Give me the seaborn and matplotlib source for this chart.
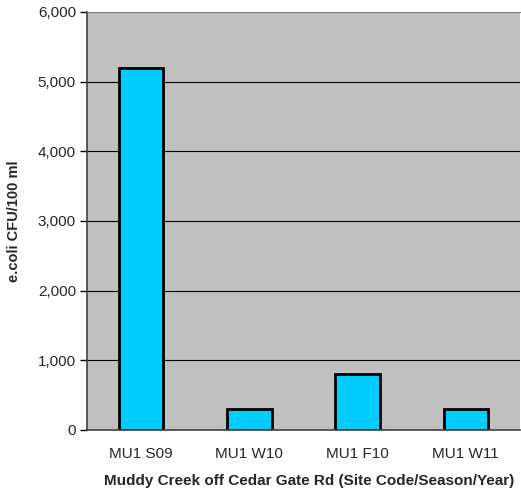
import numpy as np
import pandas as pd
import matplotlib
matplotlib.use("Agg")
import matplotlib.pyplot as plt
import seaborn as sns
from matplotlib.ticker import FuncFormatter

samples = ["MU1 S09", "MU1 W10", "MU1 F10", "MU1 W11"]
ecoli = [5200, 300, 800, 300]

df = pd.DataFrame({"Sample": samples, "Ecoli": ecoli})

sns.set_style("white")
plt.rcParams['font.family'] = ['Liberation Sans', 'DejaVu Sans']

fig = plt.figure(figsize=(5.21, 4.94), dpi=100)
ax = fig.add_axes([0.167, 0.1296, 0.831, 0.8462])
ax.set_facecolor("#C0C0C0")

# gridlines behind bars
ax.set_axisbelow(True)
ax.yaxis.grid(True, color="black", linewidth=0.8)

sns.barplot(x="Sample", y="Ecoli", data=df, color="#00CCFF", width=0.41,
            edgecolor="black", linewidth=2, saturation=1, ax=ax)

ax.set_ylim(0, 6000)
ax.set_xlim(-0.5, 3.5)
ax.set_yticks(np.arange(0, 6001, 1000))
ax.yaxis.set_major_formatter(FuncFormatter(lambda v, p: f"{int(v):,}"))

# category labels centered, tick marks at boundaries
ax.set_xticks(np.arange(-0.5, 4, 1))
ax.set_xticklabels([])
ax.set_xticks(range(len(samples)), minor=True)
ax.set_xticklabels(samples, minor=True)
ax.tick_params(axis="x", which="minor", length=0, labelsize=11, pad=12)
ax.tick_params(axis="x", which="major", length=5, width=1, color="black", direction="out")
ax.tick_params(axis="y", length=5, width=1, color="black", direction="out", labelsize=11, pad=3, left=True)

for s in ["left", "bottom"]:
    ax.spines[s].set_color("#404040")
    ax.spines[s].set_linewidth(1.2)
ax.spines["top"].set_color("#808080")
ax.spines["right"].set_visible(False)

ax.set_xlabel("Muddy Creek off Cedar Gate Rd (Site Code/Season/Year)", fontsize=11,
              fontweight="bold")
ax.xaxis.set_label_coords(0.514, -0.105)
ax.set_ylabel("e.coli CFU/100 ml", fontsize=10.5, fontweight="bold", labelpad=12)

fig.savefig("out.png", dpi=100)
